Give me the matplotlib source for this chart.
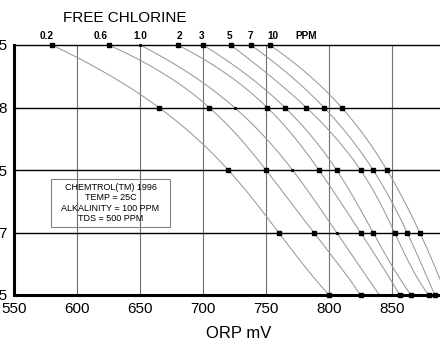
import numpy as np
import matplotlib
matplotlib.use('Agg')
import matplotlib.pyplot as plt
from matplotlib.patches import Rectangle

plt.rcParams['font.family'] = ['Liberation Sans', 'DejaVu Sans']

# pH levels (rows of the chart)
ph_levels = [8.5, 8.0, 7.5, 7.0, 6.5]
ph_ticklabels = ['8.5', '8', '7.5', '7', '6.5']

# free chlorine curves: ORP (mV) where each curve crosses the pH rows
ppm_labels = ['0.2', '0.6', '1.0', '2', '3', '5', '7', '10']
orp_0_2 = [580, 665, 720, 760, 800]
orp_0_6 = [625, 705, 750, 788, 825]
orp_1_0 = [650, 725, 771, 806, 840]
orp_2 = [680, 751, 792, 825, 856]
orp_3 = [700, 765, 806, 835, 865]
orp_5 = [722, 782, 825, 852, 879]
orp_7 = [738, 796, 835, 862, 884]
orp_10 = [753, 810, 846, 872, 893]
curves = [orp_0_2, orp_0_6, orp_1_0, orp_2, orp_3, orp_5, orp_7, orp_10]

x_ticks = [550, 600, 650, 700, 750, 800, 850]

fig = plt.figure(figsize=(4.4, 3.52), dpi=100)
ax = fig.add_axes([14/440, 1 - 295/352, 441/440, 250/352])
ax.set_xlim(550, 900)
ax.set_ylim(6.5, 8.5)

# grid
for xv in x_ticks[1:]:
    ax.axvline(xv, color='#707070', lw=0.8, zorder=1)
for yv in ph_levels[1:-1]:
    ax.axhline(yv, color='black', lw=1.0, zorder=1)

# curves
ph = np.array(ph_levels)
ph_fine = np.linspace(8.5, 6.5, 200)
for lab, orp in zip(ppm_labels, curves):
    coef = np.polyfit(ph, orp, 4)
    ax.plot(np.polyval(coef, ph_fine), ph_fine, color='#999999', lw=0.75, zorder=2)
    ms = 1.2 if lab == '1.0' else 3.2
    ax.plot(orp, ph, ls='none', marker='s', color='black', ms=ms, zorder=3, clip_on=False)

# concentration labels on top
offsets = [-4, -6, 0, 1, -1, -1, 0, 2]
for lab, orp, dx in zip(ppm_labels, curves, offsets):
    ax.annotate(lab, (orp[0], 8.5), xytext=(dx, 3.0), textcoords='offset points',
                ha='center', va='bottom', fontsize=7.2, fontweight='bold',
                annotation_clip=False)
ax.annotate('PPM', (782, 8.5), xytext=(0, 3.0), textcoords='offset points',
            ha='center', va='bottom', fontsize=7.2, fontweight='bold',
            annotation_clip=False)

fig.text(125/440, 1 - 18/352, 'FREE CHLORINE', ha='center', va='center', fontsize=11)
fig.text(239/440, 1 - 333/352, 'ORP mV', ha='center', va='center', fontsize=12)

# info box
fig.patches.append(Rectangle((51/440, 1 - 227/352), 119/440, 48/352,
                             transform=fig.transFigure, fill=False,
                             edgecolor='#808080', lw=0.8))
fig.text(110.5/440, 1 - 203/352,
         'CHEMTROL(TM) 1996\nTEMP = 25C\nALKALINITY = 100 PPM\nTDS = 500 PPM',
         ha='center', va='center', fontsize=6.5, linespacing=1.15)

# axes styling
ax.set_xticks(x_ticks)
ax.set_yticks(ph_levels)
ax.set_yticklabels(ph_ticklabels)
ax.tick_params(length=0, labelsize=11)
ax.tick_params(axis='y', pad=5)
ax.tick_params(axis='x', pad=5)
ax.spines['right'].set_visible(False)
ax.spines['left'].set_linewidth(2.2)
ax.spines['bottom'].set_linewidth(2.2)
ax.spines['top'].set_linewidth(1.0)

fig.savefig('out.png', dpi=100)
